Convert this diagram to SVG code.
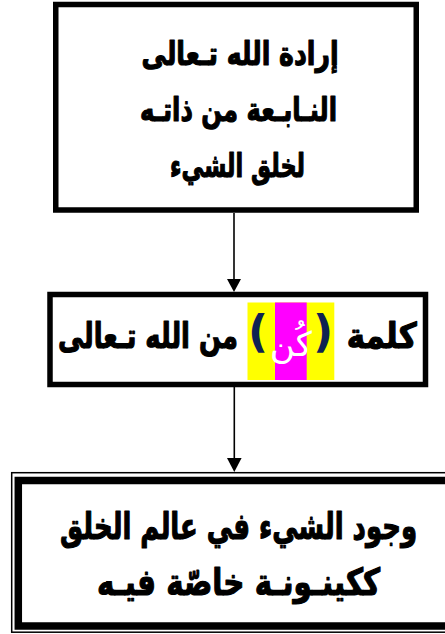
<svg xmlns="http://www.w3.org/2000/svg" width="445" height="634" viewBox="0 0 445 634">
<defs>
<style>
.box{fill:#fff;stroke:#000;stroke-width:5.5}
.t{font-family:"DejaVu Sans",sans-serif;font-weight:bold;fill:#000;stroke:#000;stroke-width:1.2;stroke-linejoin:round;text-anchor:middle}
.conn{stroke:#000;stroke-width:1.6;fill:none}
.head{fill:#000}
.br{font-family:"DejaVu Sans",sans-serif;font-weight:bold;fill:#0f2352;text-anchor:middle;font-size:44px}
</style>
</defs>
<rect width="445" height="634" fill="#fff"/>
<g id="connectors">
<line class="conn" x1="234" y1="213" x2="234" y2="281"/>
<polygon class="head" points="227,279 241,279 234,292"/>
<line class="conn" x1="234.3" y1="387" x2="234.3" y2="460"/>
<polygon class="head" points="227,458 241.6,458 234.3,472"/>
</g>
<g id="node1">
<rect class="box" x="55.75" y="4.5" width="360.5" height="205.5"/>
<text class="t" x="240" y="65" font-size="33" textLength="197" lengthAdjust="spacingAndGlyphs">إرادة الله تـعالى</text>
<text class="t" x="238.5" y="121" font-size="33" textLength="197" lengthAdjust="spacingAndGlyphs">النـابـعة من ذاتـه</text>
<text class="t" x="237.5" y="177" font-size="33" textLength="135" lengthAdjust="spacingAndGlyphs">لخلق الشيء</text>
</g>
<g id="node2">
<rect class="box" x="50" y="294.5" width="375.5" height="90"/>
<rect x="247.5" y="302.5" width="86.8" height="77.5" fill="#ffff00"/>
<rect x="275" y="302.5" width="31.7" height="77.5" fill="#ff00ff"/>
<text class="t" x="381.7" y="348" font-size="35" textLength="70" lengthAdjust="spacingAndGlyphs">كلمة</text>
<text class="br" x="258" y="347">(</text>
<text class="br" x="323" y="347">)</text>
<text x="291" y="356" font-size="34" fill="#fff" text-anchor="middle" font-family="DejaVu Sans, sans-serif">كُن</text>
<text class="t" x="148" y="348" font-size="35" textLength="180" lengthAdjust="spacingAndGlyphs">من الله تـعالى</text>
</g>
<g id="node3">
<rect x="11.7" y="472.7" width="454" height="159.5" fill="#fff" stroke="#000" stroke-width="1.5"/>
<rect x="18.3" y="480.5" width="442" height="145.5" fill="#fff" stroke="#000" stroke-width="7.5"/>
<text class="t" x="238.5" y="539" font-size="37" textLength="357" lengthAdjust="spacingAndGlyphs">وجود الشيء في عالم الخلق</text>
<text class="t" x="238.5" y="595" font-size="37" textLength="283" lengthAdjust="spacingAndGlyphs">ككينـونـة خاصّة فيـه</text>
</g>
</svg>
